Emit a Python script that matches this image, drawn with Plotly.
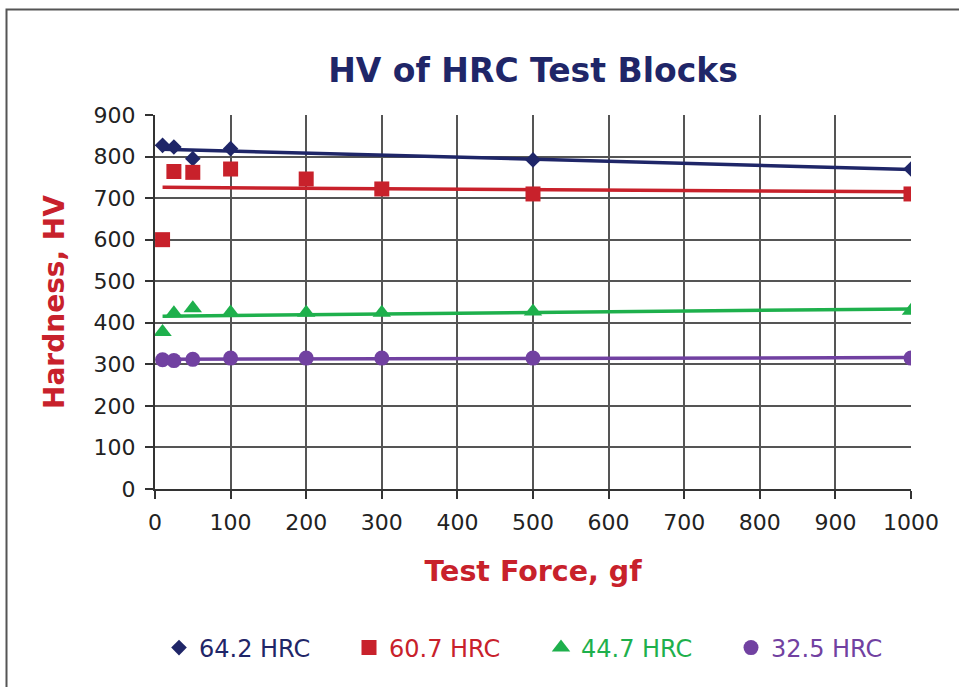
import numpy as np
import plotly.graph_objects as go

# ---- data ----
force_642 = [10, 25, 50, 100, 500, 1000]
hv_642 = [827, 823, 795, 819, 792, 770]

force_607 = [10, 25, 50, 100, 200, 300, 500, 1000]
hv_607 = [600, 764, 762, 770, 746, 722, 710, 710]

force_447 = [10, 25, 50, 100, 200, 300, 500, 1000]
hv_447 = [378, 423, 435, 425, 424, 424, 427, 429]

force_325 = [10, 25, 50, 100, 200, 300, 500, 1000]
hv_325 = [311, 309, 312, 315, 315, 315, 315, 315]

series_names = ["64.2 HRC", "60.7 HRC", "44.7 HRC", "32.5 HRC"]
x_ticks = [0, 100, 200, 300, 400, 500, 600, 700, 800, 900, 1000]
y_ticks = [0, 100, 200, 300, 400, 500, 600, 700, 800, 900]

colors = ["#1F2668", "#C8212B", "#1EB04C", "#7141A1"]
symbols = ["diamond", "square", "triangle-up", "circle"]
sizes = [12, 15, 16, 15]

all_series = [(force_642, hv_642), (force_607, hv_607),
              (force_447, hv_447), (force_325, hv_325)]

fig = go.Figure()

# linear trend lines (like spreadsheet trendlines)
for (xs, ys), c in zip(all_series, colors):
    k, b = np.polyfit(xs, ys, 1)
    xe = [min(xs), max(xs)]
    fig.add_trace(go.Scatter(x=xe, y=[k * v + b for v in xe], mode="lines",
                             line=dict(color=c, width=3.5), showlegend=False,
                             hoverinfo="skip"))

legend_ids = ["legend", "legend2", "legend3", "legend4"]
legend_pos = [183, 373, 565, 755]  # marker centres in px

for (xs, ys), name, c, s, sz, lg in zip(all_series, series_names, colors,
                                        symbols, sizes, legend_ids):
    fig.add_trace(go.Scatter(
        x=xs, y=ys, mode="markers", legend=lg,
        name=f"<span style='color:{c}'>{name}</span>",
        marker=dict(color=c, symbol=s, size=sz, line=dict(width=0)),
    ))

L, R, T, B = 155, 48, 115, 198
W, H = 959, 687
pw, ph = W - L - R, H - T - B

def px_x(p):
    return (p - L) / pw

def px_y(p):
    return (H - B - p) / ph

legend_layout = {}
for lg, p in zip(legend_ids, legend_pos):
    legend_layout[lg] = dict(orientation="h", xref="container", yref="container",
                             x=(p - 24) / W, xanchor="left",
                             y=(H - 648) / H, yanchor="middle",
                             font=dict(family="DejaVu Sans", size=24),
                             bgcolor="rgba(0,0,0,0)")

fig.update_layout(
    width=W, height=H,
    margin=dict(l=L, r=R, t=T, b=B, pad=0),
    paper_bgcolor="white", plot_bgcolor="white",
    font=dict(family="DejaVu Sans", size=22, color="#222222"),
    title=dict(text="<b>HV of HRC Test Blocks</b>",
               font=dict(family="DejaVu Sans", size=33, color="#1F2668"),
               x=px_x(533), xref="paper", xanchor="center",
               y=1 - 70 / H, yanchor="middle"),
    xaxis=dict(range=[0, 1000], tickvals=x_ticks, showgrid=True,
               gridcolor="#555555", gridwidth=1.5,
               showline=True, linecolor="#333333", linewidth=2,
               ticks="outside", ticklen=8, tickwidth=1.5, tickcolor="#333333",
               ticklabelstandoff=5,
               zeroline=False,
               title=dict(text="<b>Test Force, gf</b>",
                          font=dict(family="DejaVu Sans", size=28.5, color="#C8212B"),
                          standoff=27)),
    yaxis=dict(range=[0, 900], tickvals=y_ticks, showgrid=True,
               gridcolor="#555555", gridwidth=1.5,
               showline=True, linecolor="#333333", linewidth=2,
               ticks="outside", ticklen=8, tickwidth=1.5, tickcolor="#333333",
               ticklabelstandoff=5,
               zeroline=False,
               title=dict(text="<b>Hardness, HV</b>",
                          font=dict(family="DejaVu Sans", size=28, color="#C8212B"),
                          standoff=21)),
    shapes=[dict(type="rect", xref="paper", yref="paper",
                 x0=px_x(6.5), x1=px_x(1200), y0=px_y(900), y1=px_y(9.5),
                 line=dict(color="#555555", width=2), fillcolor="rgba(0,0,0,0)",
                 layer="above")],
    **legend_layout,
)

fig.write_html("out.html", config={"displayModeBar": False},
               post_script="document.body.style.margin='0';")
